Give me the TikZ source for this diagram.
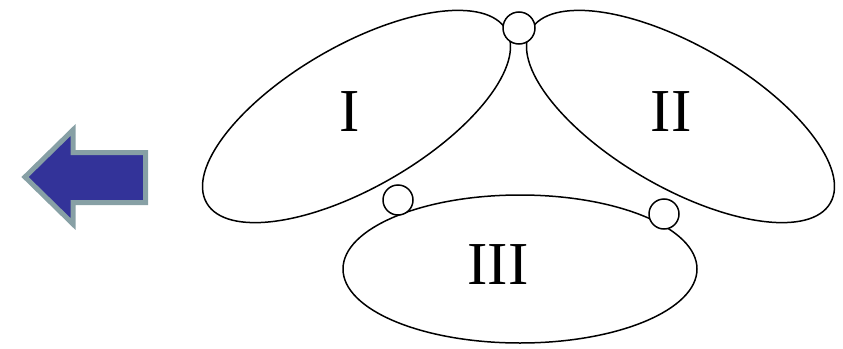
\documentclass[tikz,border=0pt]{standalone}
\usepackage{fontspec}
\setmainfont{Liberation Serif}
\usetikzlibrary{shapes.geometric}
\definecolor{arrowfill}{RGB}{51,51,153}
\definecolor{arrowedge}{RGB}{135,160,165}
\tikzset{
  lobe/.style={ellipse, draw=black, line width=1.5pt, fill=white, inner sep=0pt},
  joint/.style={circle, draw=black, line width=1.5pt, fill=white, inner sep=0pt},
  lbl/.style={font=\fontsize{61}{61}\selectfont, inner sep=0pt}
}
\begin{document}
\begin{tikzpicture}[x=1pt,y=-1pt]
\useasboundingbox (0,0) rectangle (843,348);
% ellipses
\node[lobe, minimum width=346pt, minimum height=142pt, rotate=30] (e1) at (356.5,116.5) {};
\node[lobe, minimum width=346pt, minimum height=142pt, rotate=-30] (e2) at (680.5,116.5) {};
\node[lobe, minimum width=354pt, minimum height=148pt] (e3) at (520,269) {};
% labels
\node[lbl] (l1) at (350,112) {I};
\node[lbl] (l2) at (671,112) {II};
\node[lbl] (l3) at (498,265) {III};
% small circles
\node[joint, minimum size=32pt] (c1) at (519,28) {};
\node[joint, minimum size=30pt] (c2) at (398,200) {};
\node[joint, minimum size=30pt] (c3) at (664,214) {};
% arrow
\filldraw[fill=arrowfill, draw=arrowedge, line width=5pt, line join=miter]
  (25,177) -- (73,130) -- (73,152.5) -- (145.5,152.5) -- (145.5,202.5)
  -- (73,202.5) -- (73,224) -- cycle;
\end{tikzpicture}
\end{document}
